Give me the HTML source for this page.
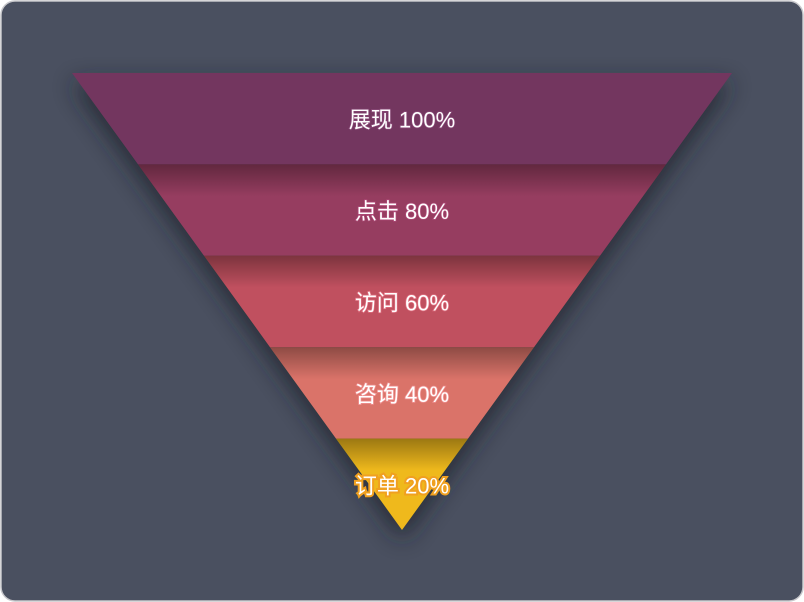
<!DOCTYPE html>
<html><head><meta charset="utf-8"><style>
html,body{margin:0;padding:0;background:#fff;}
#wrap{position:absolute;left:0;top:0;width:804px;height:602px;}
svg{display:block}
</style></head><body>
<div id="wrap">
<svg id="chart" width="804" height="602" xmlns="http://www.w3.org/2000/svg">
<defs>
<filter id="sh" x="-20%" y="-20%" width="140%" height="150%"><feGaussianBlur stdDeviation="12"/></filter>
<linearGradient id="topshade" x1="0" y1="0" x2="0" y2="1">
<stop offset="0" stop-color="#000" stop-opacity="0.35"/>
<stop offset="0.35" stop-color="#000" stop-opacity="0"/>
</linearGradient>
</defs>
<rect x="1" y="1" width="802" height="600" rx="14" fill="#4a5060" stroke="#c8c8cc" stroke-width="1.5"/>
<g id="funnel"></g>
</svg>
</div>
<script>
const labels = ["展现","点击","访问","咨询","订单"];
const values = [100,80,60,40,20];
const colors = ["#73365f","#963d60","#c0505f","#da7369","#efb91c"];
const textGlow = ["#8a4a78","#b04a78","#e07080","#f09090","#f0a020"];

const svgEl = document.getElementById('chart');
const g = document.getElementById('funnel');
const NS = "http://www.w3.org/2000/svg";
const cx = 402, funnelTop = 73, funnelBottom = 530, fullW = 660, maxV = 100;
const n = values.length, h = (funnelBottom - funnelTop) / n;
function wScale(v){ return v / maxV * fullW; }

const shadow = document.createElementNS(NS,'polygon');
shadow.setAttribute('points', `${cx-fullW/2},${funnelTop+10} ${cx+fullW/2},${funnelTop+10} ${cx},${funnelBottom+10}`);
shadow.setAttribute('fill','#1e222c');
shadow.setAttribute('opacity','0.8');
shadow.setAttribute('filter','url(#sh)');


g.appendChild(shadow);

values.forEach((v,i)=>{
  const y0 = funnelTop + i*h, y1 = y0 + h;
  const w0 = wScale(v), w1 = i+1<n ? wScale(values[i+1]) : 0;
  const pts = `${cx-w0/2},${y0} ${cx+w0/2},${y0} ${cx+w1/2},${y1} ${cx-w1/2},${y1}`;
  const p = document.createElementNS(NS,'polygon');
  p.setAttribute('points', pts);
  p.setAttribute('fill', colors[i]);
  
  
  g.appendChild(p);
  if(i>0){
    const s = document.createElementNS(NS,'polygon');
    s.setAttribute('points', pts);
    s.setAttribute('fill','url(#topshade)');
    
    
    g.appendChild(s);
  }
  const t = document.createElementNS(NS,'text');
  t.setAttribute('x', cx);
  t.setAttribute('y', y0 + h/2 + 9);
  t.setAttribute('text-anchor','middle');
  t.setAttribute('font-family','"Liberation Sans","Noto Sans CJK SC",sans-serif');
  t.setAttribute('font-size','22');
  t.setAttribute('fill','#fff');
  t.setAttribute('stroke', textGlow[i]);
  t.setAttribute('stroke-width', i===n-1 ? '4' : '1.5');
  t.setAttribute('paint-order','stroke');
  
  
  t.textContent = labels[i] + ' ' + v + '%';
  g.appendChild(t);
});
</script>
</body></html>
